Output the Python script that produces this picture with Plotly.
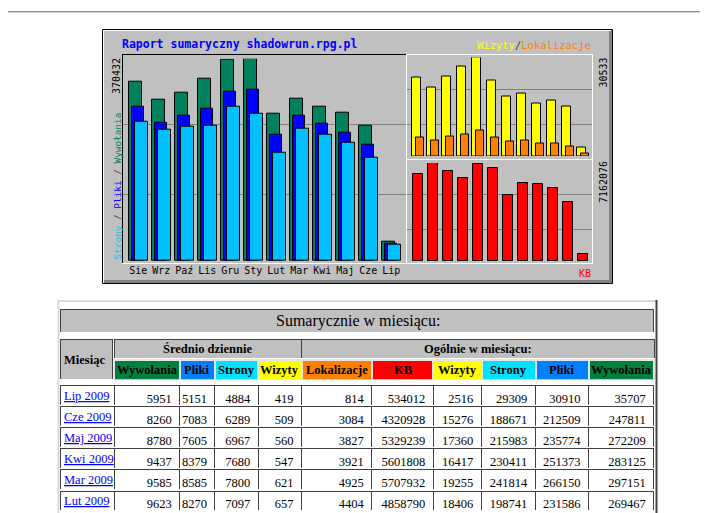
import plotly.graph_objects as go

# The page has an 8px body margin, so the figure is drawn 8px in from the window corner.
OFF = 8
W, H = 708 - OFF, 513 - OFF


def X(px):
    return (px - OFF) / W


def Y(py):
    return 1 - (py - OFF) / H


# ---------------- data ----------------
months = ['Sie', 'Wrz', 'Paź', 'Lis', 'Gru', 'Sty', 'Lut', 'Mar', 'Kwi', 'Maj', 'Cze', 'Lip']

# first six months (Sie 2008 .. Sty 2009)
hits_early = [328400, 295400, 308200, 334500, 368100, 370432]
files_early = [283100, 253800, 266700, 279500, 310600, 314300]
pages_early = [255000, 241000, 246500, 248300, 283100, 270300]
visits_early = [24270, 21290, 24580, 27660, 30533, 23340]
sites_early = [5760, 4830, 6070, 6680, 7920, 5760]
kbytes_early = [6390000, 7162076, 6608000, 6098000, 7100000, 6827000]

# table (newest first)
table_months = ['Lip 2009', 'Cze 2009', 'Maj 2009', 'Kwi 2009', 'Mar 2009', 'Lut 2009']
avg_hits = [5951, 8260, 8780, 9437, 9585, 9623]
avg_files = [5151, 7083, 7605, 8379, 8585, 8270]
avg_pages = [4884, 6289, 6967, 7680, 7800, 7097]
avg_visits = [419, 509, 560, 547, 621, 657]
tot_sites = [814, 3084, 3827, 3921, 4925, 4404]
tot_kb = [534012, 4320928, 5329239, 5601808, 5707932, 4858790]
tot_visits = [2516, 15276, 17360, 16417, 19255, 18406]
tot_pages = [29309, 188671, 215983, 230411, 241814, 198741]
tot_files = [30910, 212509, 235774, 251373, 266150, 231586]
tot_hits = [35707, 247811, 272209, 283125, 297151, 269467]

hits = hits_early + tot_hits[::-1]
files = files_early + tot_files[::-1]
pages = pages_early + tot_pages[::-1]
visits = visits_early + tot_visits[::-1]
sites = sites_early + tot_sites[::-1]
kbytes = kbytes_early + tot_kb[::-1]

max_hits_label = 370432
max_visits_label = 30533
max_kb_label = 7162076

title_text = 'Raport sumaryczny shadowrun.rpg.pl'
table_title = 'Sumarycznie w miesiącu:'
month_header = 'Miesiąc'
group_labels = ['Średnio dziennie', 'Ogólnie w miesiącu:']
col_labels = ['Wywołania', 'Pliki', 'Strony', 'Wizyty', 'Lokalizacje', 'KB', 'Wizyty', 'Strony', 'Pliki', 'Wywołania']

# ---------------- colours ----------------
C_HITS, C_FILES, C_PAGES = '#00805c', '#0000ff', '#00c0ff'
C_VISITS, C_SITES, C_KB = '#ffff00', '#ff8000', '#ff0000'
T_HITS, T_FILES, T_PAGES, T_VISITS, T_SITES, T_KB = '#008040', '#0080ff', '#00e0ff', '#ffff00', '#ff8000', '#ff0000'
col_fill = [T_HITS, T_FILES, T_PAGES, T_VISITS, T_SITES, T_KB, T_VISITS, T_PAGES, T_FILES, T_HITS]

idx = list(range(len(months)))
MONO = 'DejaVu Sans Mono'
SERIF = 'Liberation Serif'

fig = go.Figure()


def add_bar(y, color, width, offset, xa, ya):
    fig.add_trace(go.Bar(
        x=idx, y=y, width=width, offset=offset, xaxis=xa, yaxis=ya,
        marker=dict(color=color, line=dict(color='black', width=1)),
        hoverinfo='skip'))


add_bar(hits, C_HITS, 0.565, -0.417, 'x', 'y')
add_bar(files, C_FILES, 0.55, -0.287, 'x', 'y')
add_bar(pages, C_PAGES, 0.565, -0.157, 'x', 'y')
add_bar(visits, C_VISITS, 0.56, -0.38, 'x2', 'y2')
add_bar(sites, C_SITES, 0.513, -0.133, 'x2', 'y2')
add_bar(kbytes, C_KB, 0.627, -0.313, 'x3', 'y3')

# ---------------- tables ----------------
w_month = 53.5
w_cols = [65.5, 35.2, 43.3, 43.2, 70.3, 61.5, 48, 54, 53.3, 65.4]
DARK = dict(color='#404040', width=1)
LIGHT = dict(color='#e4e4e4', width=2)
TBL_L, TBL_R, COL_L = 60.8, 654.5, 114.3


def row_table(x0, x1, y0, y1, values, fill, line, widths=None, font=None, align='center'):
    kw = dict(columnwidth=widths) if widths else {}
    fig.add_trace(go.Table(
        domain=dict(x=[X(x0), X(x1)], y=[Y(y1), Y(y0)]), **kw,
        header=dict(values=values, fill=dict(color=fill), line=line, height=y1 - y0,
                    font=font or dict(family=SERIF, size=12.5, color='black'), align=align),
        cells=dict(values=[[] for _ in values])))


row_table(TBL_L, TBL_R, 309, 332, [''], '#c0c0c0', DARK)
row_table(COL_L, TBL_R, 339, 358.5, ['', ''], '#c0c0c0', DARK, [sum(w_cols[:4]), sum(w_cols[4:])])
row_table(TBL_L, COL_L - 1, 339, 379.5, [''], '#c0c0c0', DARK)
row_table(COL_L, TBL_R, 359.5, 379.8, [''] * len(col_labels), col_fill, LIGHT, w_cols)

num_cols = [avg_hits, avg_files, avg_pages, avg_visits, tot_sites, tot_kb, tot_visits, tot_pages, tot_files,
            tot_hits]
num_cols = [[str(v) for v in col] for col in num_cols]
ROW_TOP, ROW_PITCH, ROW_H = 385.7, 21.06, 19.6
row_centers = []
for r in range(len(table_months)):
    top = ROW_TOP + r * ROW_PITCH
    row_centers.append(top + ROW_H / 2)
    row_table(TBL_L, TBL_R, top, top + ROW_H, [''] + [c[r] for c in num_cols], 'white', DARK,
              [w_month] + w_cols, dict(family=SERIF, size=12.5, color='black'), ['left'] + ['right'] * 10)

# ---------------- decoration shapes ----------------
shapes = []


def rect(x0, y0, x1, y1, fill='rgba(0,0,0,0)', line=None, lw=1):
    shapes.append(dict(type='rect', xref='paper', yref='paper', layer='below',
                       x0=X(x0), x1=X(x1), y0=Y(y1), y1=Y(y0), fillcolor=fill,
                       line=dict(color=line or 'rgba(0,0,0,0)', width=lw if line else 0)))


def hline(x0, x1, y, color, lw=1):
    shapes.append(dict(type='line', xref='paper', yref='paper', layer='below',
                       x0=X(x0), x1=X(x1), y0=Y(y), y1=Y(y), line=dict(color=color, width=lw)))


def vline(x, y0, y1, color, lw=1):
    shapes.append(dict(type='line', xref='paper', yref='paper', layer='below',
                       x0=X(x), x1=X(x), y0=Y(y0), y1=Y(y1), line=dict(color=color, width=lw)))


hline(OFF, 708, 11.5, '#8a8a8a')
hline(OFF, 708, 12.5, '#d4d4d4')

rect(102.5, 29.5, 612.5, 283.5, fill='#c0c0c0', line='black')
rect(609, 30, 612, 283, fill='#808080')
rect(104, 280, 612, 283, fill='#808080')
vline(103.5, 30, 283, 'white')
hline(103, 611, 30.5, 'white')

for y in (124.5, 194.5):
    hline(122, 407, y, '#808080')
for y in (89.5, 124.5, 194.5, 229.5):
    hline(407, 593, y, '#808080')

hline(122, 407, 54.5, 'black')
vline(122.5, 54, 264, 'black')
hline(122, 407, 263.5, 'white')
vline(406.5, 54, 264, 'white')
hline(407, 593, 54.5, 'white')
vline(592.5, 54, 264, 'white')
hline(407, 593, 159.5, 'white')
hline(407, 593, 263.5, 'white')

# table outer border
hline(58, 657, 301, '#d8d8d8', 2)
vline(58.5, 300, 513, '#d8d8d8', 2)
vline(656.5, 300, 513, '#404040', 2)

# ---------------- annotations ----------------
ann = []


def text(x, y, s, size, color='black', xanchor='left', yanchor='middle', angle=0, bold=False, family=MONO):
    ann.append(dict(xref='paper', yref='paper', x=X(x), y=Y(y), text=('<b>%s</b>' % s) if bold else s,
                    showarrow=False, xanchor=xanchor, yanchor=yanchor, textangle=angle, borderpad=0,
                    font=dict(family=family, size=size, color=color)))


text(121, 44, title_text, 11.5, color='#0000ff', bold=True)
legend_r = ('<span style="color:%s">Wizyty</span><span style="color:#404040">/</span>'
            '<span style="color:%s">Lokalizacje</span>') % (C_VISITS, C_SITES)
text(592, 45.5, legend_r, 10.5, xanchor='right')
text(592, 273, 'KB', 10, color=C_KB, xanchor='right')
text(117, 57, str(max_hits_label), 10, xanchor='center', yanchor='top', angle=-90)
legend_l = ('<span style="color:%s">Strony</span><span style="color:#404040"> / </span>'
            '<span style="color:%s">Pliki</span><span style="color:#404040"> / </span>'
            '<span style="color:%s">Wywołania</span>') % (C_PAGES, C_FILES, C_HITS)
text(117, 261, legend_l, 9.4, xanchor='center', yanchor='bottom', angle=-90)
text(603, 56.5, str(max_visits_label), 10, xanchor='center', yanchor='top', angle=-90)
text(603, 160, str(max_kb_label), 10, xanchor='center', yanchor='top', angle=-90)

# table header labels
text((TBL_L + TBL_R) / 2, 320.5, table_title, 16, xanchor='center', family=SERIF)
text(COL_L + sum(w_cols[:4]) / 2, 348.5, group_labels[0], 12.5, xanchor='center', bold=True, family=SERIF)
text(COL_L + sum(w_cols[:4]) + sum(w_cols[4:]) / 2, 348.5, group_labels[1], 12.5, xanchor='center', bold=True,
     family=SERIF)
text(TBL_L + 2.5, 360, month_header, 12.5, bold=True, family=SERIF)
xc = COL_L
for lab, wcol in zip(col_labels, w_cols):
    text(xc + wcol / 2, 369.8, lab, 12.5, xanchor='center', bold=True, family=SERIF)
    xc += wcol

# month links in the first column
for m, yc in zip(table_months, row_centers):
    text(TBL_L + 2.3, yc + 0.5, '<u>%s</u>' % m, 12.5, color='#0000ff', family=SERIF)

fig.update_layout(
    width=W, height=H, margin=dict(l=0, r=0, t=0, b=0),
    paper_bgcolor='white', plot_bgcolor='rgba(0,0,0,0)',
    barmode='overlay', showlegend=False, bargap=0,
    shapes=shapes, annotations=ann,
    xaxis=dict(domain=[X(122), X(407)], range=[-0.709, 11.683], tickvals=idx, ticktext=months,
               tickfont=dict(family=MONO, size=10, color='black'), showgrid=False, zeroline=False,
               showline=False, ticks='', anchor='y', ticklabelstandoff=2, fixedrange=True),
    yaxis=dict(domain=[Y(261), Y(58.7)], range=[0, max_hits_label], visible=False, anchor='x', fixedrange=True),
    xaxis2=dict(domain=[X(407), X(593)], range=[-0.733, 11.667], visible=False, anchor='y2', fixedrange=True),
    yaxis2=dict(domain=[Y(156), Y(57.5)], range=[0, max_visits_label], visible=False, anchor='x2', fixedrange=True),
    xaxis3=dict(domain=[X(407), X(593)], range=[-0.733, 11.667], visible=False, anchor='y3', fixedrange=True),
    yaxis3=dict(domain=[Y(261), Y(163)], range=[0, max_kb_label], visible=False, anchor='x3', fixedrange=True),
)

fig.write_html('out.html')
